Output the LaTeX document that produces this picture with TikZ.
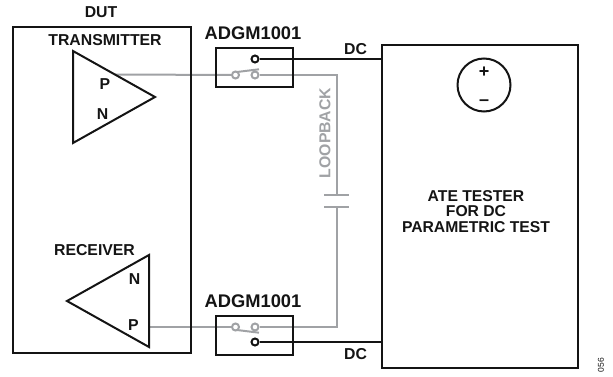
\documentclass[tikz,border=0pt]{standalone}
\usepackage{fontspec}
\setmainfont{Liberation Sans}
\definecolor{wiregray}{RGB}{160,162,165}
\definecolor{inkblack}{RGB}{20,20,20}
\tikzset{
  blk/.style={draw=inkblack,line width=2pt},
  gry/.style={draw=wiregray,line width=2pt},
  lbl/.style={font=\bfseries\fontsize{15.8}{18}\selectfont,text=inkblack,inner sep=0pt,align=center},
  big/.style={font=\bfseries\fontsize{18.3}{20}\selectfont,text=inkblack,inner sep=0pt},
  boxn/.style={blk,rectangle,inner sep=0pt,anchor=north west},
  contactb/.style={circle,draw=inkblack,fill=white,line width=2pt,minimum size=7pt,inner sep=0pt},
  contactg/.style={circle,draw=wiregray,fill=white,line width=2pt,minimum size=7pt,inner sep=0pt}
}
\begin{document}
\begin{tikzpicture}[x=1pt,y=-1pt]
\useasboundingbox (0,0) rectangle (613,377);
% coordinates
\coordinate (ta) at (73,51); \coordinate (tb) at (155,97); \coordinate (tc) at (73,143);
\coordinate (ra) at (149,255); \coordinate (rb) at (67,301); \coordinate (rc) at (149,347);
\coordinate (tout) at (115,74.5);
\coordinate (rout) at (149,327);
\coordinate (corna) at (336.5,75);
\coordinate (cornb) at (336.5,327);
\coordinate (capa) at (336.5,195);
\coordinate (capb) at (336.5,206.5);
\coordinate (capaL) at (324,195); \coordinate (capaR) at (348.5,195);
\coordinate (capbL) at (324,206.5); \coordinate (capbR) at (348.5,206.5);
\coordinate (arma) at (237,72); \coordinate (armb) at (259,69.3);
\coordinate (armc) at (237,330); \coordinate (armd) at (259,332.7);
% contacts
\node[contactg] (a1) at (235.5,75) {};
\node[contactg] (a2) at (255,75) {};
\node[contactb] (a3) at (255,59) {};
\node[contactg] (b1) at (235.5,327) {};
\node[contactg] (b2) at (255,327) {};
\node[contactb] (b3) at (255,342) {};
% gray wires
\draw[gry] (tout) -- (a1);
\draw[gry] (a2) -- (corna) -- (capa);
\draw[gry] (capb) -- (cornb) -- (b2);
\draw[gry] (rout) -- (b1);
\draw[gry] (capaL) -- (capaR);
\draw[gry] (capbL) -- (capbR);
\draw[gry] (arma) -- (armb);
\draw[gry] (armc) -- (armd);
% boxes
\node[boxn,minimum width=177.5pt,minimum height=325.5pt] (dut) at (12,26) {};
\node[boxn,minimum width=195.5pt,minimum height=322.5pt] (ate) at (381,44) {};
\node[boxn,minimum width=76.5pt,minimum height=39.5pt] (swa) at (215,47) {};
\node[boxn,minimum width=76.5pt,minimum height=39.5pt] (swb) at (215,314.5) {};
% black wires
\draw[blk] (a3) -- (ate.west |- a3);
\draw[blk] (b3) -- (ate.west |- b3);
\draw[blk,line join=miter] (ta) -- (tb) -- (tc) -- cycle;
\draw[blk,line join=miter] (ra) -- (rb) -- (rc) -- cycle;
% source
\node[circle,draw=inkblack,line width=2pt,minimum size=53pt,inner sep=0pt] (src) at (484,85) {};
\node[lbl,font=\bfseries\fontsize{18}{20}\selectfont] (plus) at (484,72) {+};
\node[lbl,font=\bfseries\fontsize{18}{20}\selectfont] (minus) at (484,102.5) {–};
% labels
\node[lbl] (ldut) at (101,12.5) {DUT};
\node[lbl] (ltx) at (105,40) {TRANSMITTER};
\node[lbl] (lrx) at (94.5,250) {RECEIVER};
\node[lbl] (tp) at (105,84.5) {P};
\node[lbl] (tn) at (102.5,114) {N};
\node[lbl] (rn) at (134.5,279.5) {N};
\node[lbl] (rp) at (133.5,325) {P};
\node[big] (la) at (253,33.5) {ADGM1001};
\node[big] (lb) at (253,301) {ADGM1001};
\node[lbl] (dca) at (355.5,49) {DC};
\node[lbl] (dcb) at (355.5,354) {DC};
\node[lbl,text=wiregray,rotate=90] (loop) at (325,133) {LOOPBACK};
\node[lbl,font=\bfseries\fontsize{15.7}{15.6}\selectfont] (ate2) at (476,211.5) {ATE TESTER\\FOR DC\\PARAMETRIC TEST};
\node[font=\fontsize{8.5}{9}\selectfont,rotate=90,text=inkblack,inner sep=0pt] (fig) at (601,365) {056};
\end{tikzpicture}
\end{document}
